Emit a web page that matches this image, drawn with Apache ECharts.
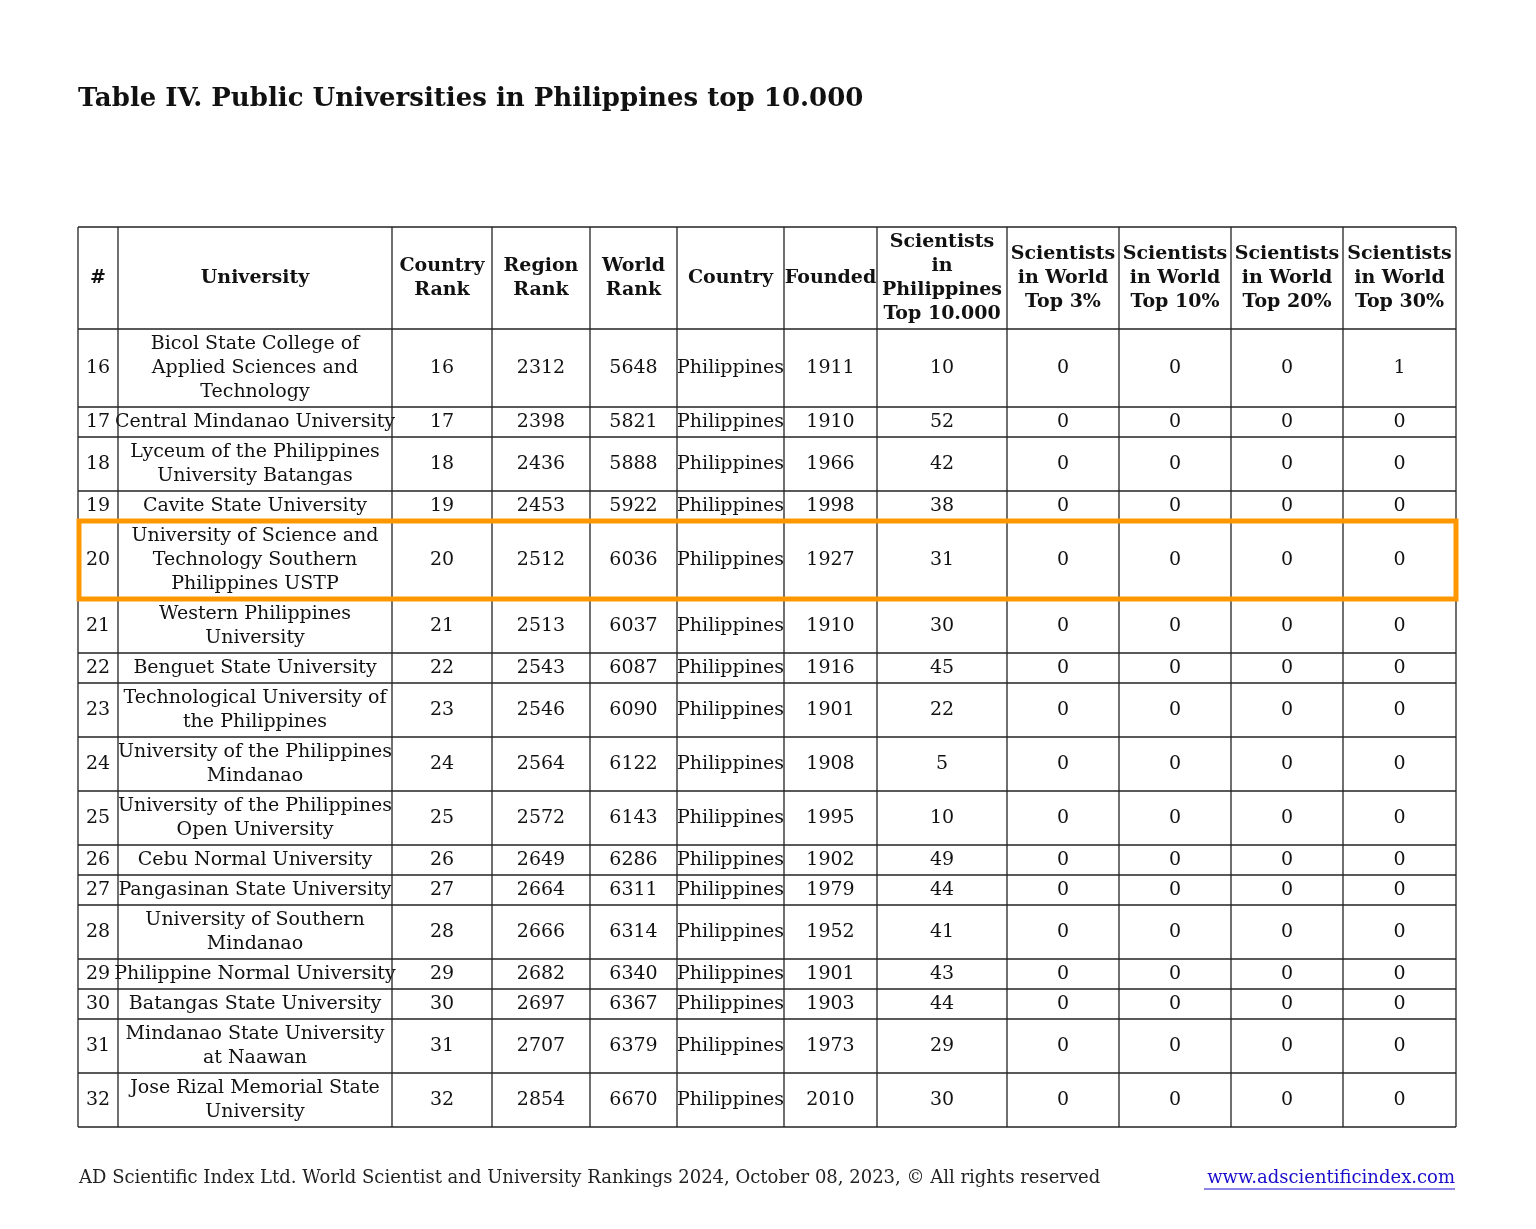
<!DOCTYPE html><html><head><meta charset="utf-8">
<script src="https://cdn.jsdelivr.net/npm/echarts@6/dist/echarts.min.js"></script>
<style>html,body{margin:0;background:#fff}#c{width:1536px;height:1229px}</style></head><body><div id="c"></div>
<script>
const title = 'Table IV. Public Universities in Philippines top 10.000';
const headers = ['#','University','Country\nRank','Region\nRank','World\nRank','Country','Founded','Scientists\nin\nPhilippines\nTop 10.000','Scientists\nin World\nTop 3%','Scientists\nin World\nTop 10%','Scientists\nin World\nTop 20%','Scientists\nin World\nTop 30%'];
const idx = [16,17,18,19,20,21,22,23,24,25,26,27,28,29,30,31,32];
const universities = ['Bicol State College of\nApplied Sciences and\nTechnology','Central Mindanao University','Lyceum of the Philippines\nUniversity Batangas','Cavite State University','University of Science and\nTechnology Southern\nPhilippines USTP','Western Philippines\nUniversity','Benguet State University','Technological University of\nthe Philippines','University of the Philippines\nMindanao','University of the Philippines\nOpen University','Cebu Normal University','Pangasinan State University','University of Southern\nMindanao','Philippine Normal University','Batangas State University','Mindanao State University\nat Naawan','Jose Rizal Memorial State\nUniversity'];
const countryRank = [16,17,18,19,20,21,22,23,24,25,26,27,28,29,30,31,32];
const regionRank = [2312,2398,2436,2453,2512,2513,2543,2546,2564,2572,2649,2664,2666,2682,2697,2707,2854];
const worldRank = [5648,5821,5888,5922,6036,6037,6087,6090,6122,6143,6286,6311,6314,6340,6367,6379,6670];
const country = Array(17).fill('Philippines');
const founded = [1911,1910,1966,1998,1927,1910,1916,1901,1908,1995,1902,1979,1952,1901,1903,1973,2010];
const sciPh = [10,52,42,38,31,30,45,22,5,10,49,44,41,43,44,29,30];
const top3 = Array(17).fill(0), top10 = Array(17).fill(0), top20 = Array(17).fill(0);
const top30 = [1,0,0,0,0,0,0,0,0,0,0,0,0,0,0,0,0];
const highlightRow = 20;

const colX = [78,118,392,492,590,677,784,877,1007,1119,1231,1343,1456];
const tableTop = 227, headH = 102, lineH = 24, pad = 6;
const g = [];
const F = '"DejaVu Serif", serif';
g.push({type:'text',left:78,top:86,style:{text:title,font:'bold 26px '+F,fill:'#111'}});
let y = tableTop;
const rowYs=[tableTop];
function cellText(t,x0,x1,y0,y1,bold){
  g.push({type:'text',x:(x0+x1)/2,y:(y0+y1)/2,style:{text:String(t),font:(bold?'bold ':'')+'19px '+F,fill:'#111',align:'center',verticalAlign:'middle',lineHeight:lineH}});
}
headers.forEach((h,i)=>cellText(h,colX[i],colX[i+1],tableTop,tableTop+headH,true));
y += headH; rowYs.push(y);
let hl=null;
idx.forEach((n,r)=>{
  const lines = universities[r].split('\n').length;
  const h = lines*lineH + pad;
  const vals=[n,universities[r],countryRank[r],regionRank[r],worldRank[r],country[r],founded[r],sciPh[r],top3[r],top10[r],top20[r],top30[r]];
  vals.forEach((v,i)=>cellText(v,colX[i],colX[i+1],y,y+h,false));
  if(n===highlightRow) hl=[y,y+h];
  y+=h; rowYs.push(y);
});
const bottom=y;
rowYs.forEach(yy=>g.push({type:'line',shape:{x1:78,y1:yy,x2:1456,y2:yy},style:{stroke:'#222',lineWidth:1.3}}));
colX.forEach(xx=>g.push({type:'line',shape:{x1:xx,y1:tableTop,x2:xx,y2:bottom},style:{stroke:'#222',lineWidth:1.3}}));
if(hl) g.push({type:'rect',shape:{x:79,y:hl[0],width:1377,height:hl[1]-hl[0]},style:{fill:'none',stroke:'#ff9800',lineWidth:5},z:10});
const fy = bottom+51;
g.push({type:'text',x:79,y:fy,style:{text:'AD Scientific Index Ltd. World Scientist and University Rankings 2024, October 08, 2023, © All rights reserved',font:'18px '+F,fill:'#222',verticalAlign:'middle'}});
g.push({type:'text',x:1455,y:fy,style:{text:'www.adscientificindex.com',font:'18px '+F,fill:'#1a0dcc',align:'right',verticalAlign:'middle'}});
g.push({type:'line',shape:{x1:1204,y1:fy+11,x2:1455,y2:fy+11},style:{stroke:'#1a0dcc',lineWidth:1}});
const chart=echarts.init(document.getElementById('c'));
chart.setOption({backgroundColor:'#fff',graphic:{elements:g}});
</script></body></html>
